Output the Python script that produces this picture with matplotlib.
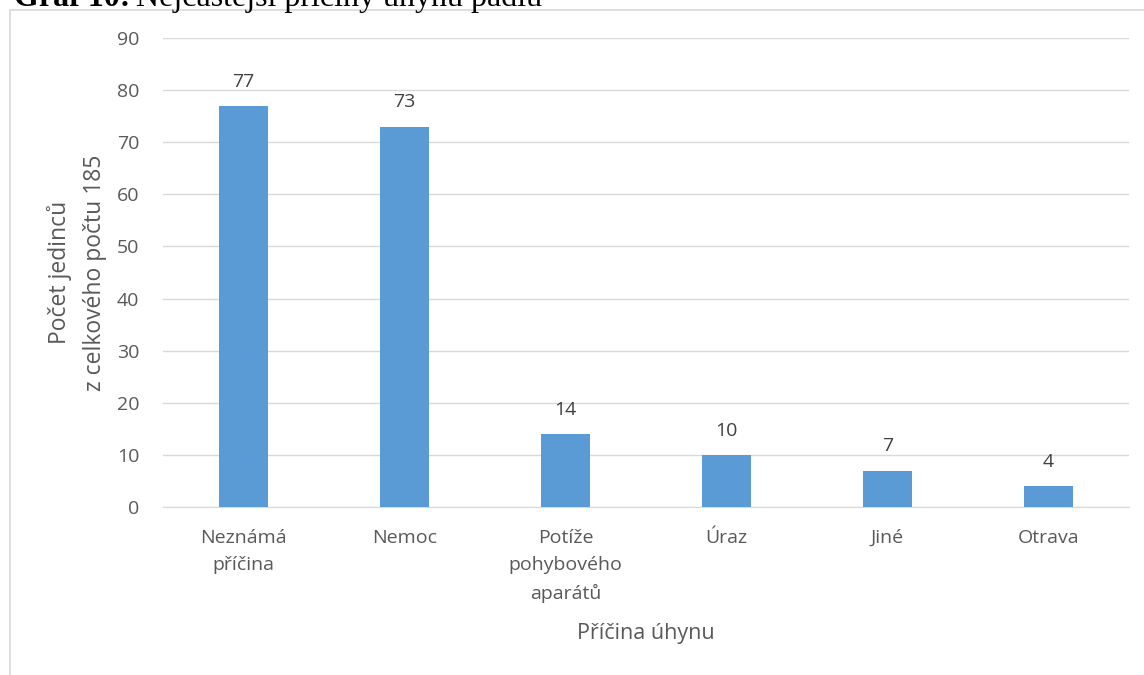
import matplotlib.pyplot as plt
from matplotlib.patches import Rectangle

# data
categories = ["Neznámá\npříčina", "Nemoc", "Potíže\npohybového\naparátů", "Úraz", "Jiné", "Otrava"]
counts = [77, 73, 14, 10, 7, 4]
y_ticks = [0, 10, 20, 30, 40, 50, 60, 70, 80, 90]

text_color = "#595959"
bar_color = "#5B9BD5"
grid_color = "#D9D9D9"

plt.rcParams["font.family"] = ["Open Sans", "DejaVu Sans"]

fig = plt.figure(figsize=(11.44, 6.75), dpi=100)

# chart frame
fig.patches.append(Rectangle((10 / 1144, -0.01), 1.0, 1 - 10 / 675 + 0.01,
                             transform=fig.transFigure, fill=False,
                             edgecolor="#D9D9D9", linewidth=1.2))

ax = fig.add_axes([163 / 1144, 1 - 507 / 675, (1129 - 163) / 1144, (507 - 38) / 675])

x = range(len(categories))
bars = ax.bar(x, counts, width=0.31, color=bar_color, zorder=3)
for rect, v in zip(bars, counts):
    ax.text(rect.get_x() + rect.get_width() / 2, v + 2.9, str(v),
            ha="center", va="bottom", fontsize=14, color="#404040")

ax.set_xlim(-0.5, len(categories) - 0.5)
ax.set_ylim(0, 90)
ax.set_yticks(y_ticks)
ax.set_xticks(list(x))
ax.set_xticklabels(categories, fontsize=14, color=text_color, linespacing=1.65)
ax.tick_params(axis="y", labelsize=14, colors=text_color, length=0, pad=17)
ax.tick_params(axis="x", length=0, pad=16)
ax.grid(axis="y", color=grid_color, linewidth=1, zorder=0)
for s in ["top", "right", "left"]:
    ax.spines[s].set_visible(False)
ax.spines["bottom"].set_color(grid_color)

ax.set_ylabel("Počet jedinců\nz celkového počtu 185", fontsize=16.5, color=text_color,
              labelpad=7, linespacing=1.6)
ax.set_xlabel("Příčina úhynu", fontsize=15.5, color=text_color, labelpad=14)

# caption above the chart, cut off by the image edge
t1 = fig.text(14 / 1144, 1 - 6 / 675, "Graf 10:", fontsize=23, fontweight="bold",
              family="Liberation Serif", va="baseline", ha="left")
fig.canvas.draw()
ext = t1.get_window_extent()
x_next = (ext.x1 + 6) / fig.bbox.width
fig.text(x_next, 1 - 6 / 675, "Nejčastější příčiny úhynu padlů", fontsize=23,
         family="Liberation Serif", va="baseline", ha="left")

fig.savefig("out.png", dpi=100)
